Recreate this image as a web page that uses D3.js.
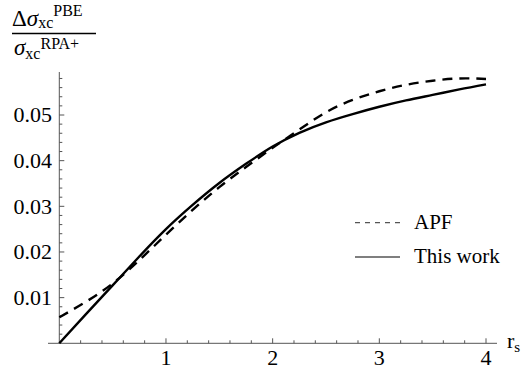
<!DOCTYPE html>
<html>
<head>
<meta charset="utf-8">
<script src="https://cdn.jsdelivr.net/npm/d3@7"></script>
<style>
  body { margin: 0; background: #fff; }
  svg text { font-family: "Liberation Serif", "DejaVu Serif", serif; fill: #000; }
</style>
</head>
<body>
<div id="drawing"></div>
<script>
// Data
const rs = [0, 0.25, 0.5, 0.75, 1, 1.25, 1.5, 1.75, 2, 2.25, 2.5, 2.75, 3, 3.25, 3.5, 3.75, 4];
const apf = [0.0057, 0.0091, 0.0131, 0.0182, 0.0238, 0.0292, 0.0342, 0.0386, 0.0428, 0.0468, 0.0506, 0.0533, 0.0552, 0.0566, 0.0575, 0.0580, 0.0579];
const thisWork = [0, 0.0064, 0.0127, 0.0190, 0.0250, 0.0303, 0.0351, 0.0393, 0.0431, 0.0461, 0.0484, 0.0502, 0.0518, 0.0532, 0.0544, 0.0556, 0.0567];
const xTicks = [1, 2, 3, 4];
const yTicks = [0.01, 0.02, 0.03, 0.04, 0.05];
const legendLabels = ["APF", "This work"];

// SVG dimensions
const svgWidth = 525;
const svgHeight = 372;

const svg = d3.select("#drawing")
  .append("svg")
  .attr("width", svgWidth)
  .attr("height", svgHeight);

// Scales
const x = d3.scaleLinear().domain([0, 4]).range([59.3, 486]);
const y = d3.scaleLinear().domain([0, 0.05]).range([343.3, 115]);

const axisColor = "#555";

// x axis line
svg.append("line")
  .attr("x1", 48).attr("x2", 497)
  .attr("y1", y(0)).attr("y2", y(0))
  .attr("stroke", axisColor).attr("stroke-width", 1);

// y axis line
svg.append("line")
  .attr("x1", x(0)).attr("x2", x(0))
  .attr("y1", 72).attr("y2", y(0))
  .attr("stroke", axisColor).attr("stroke-width", 1);

// x ticks (minor every 0.2)
const xMinor = d3.range(0.2, 4.01, 0.2);
svg.selectAll(".xt")
  .data(xMinor)
  .enter().append("line")
  .attr("x1", d => x(d)).attr("x2", d => x(d))
  .attr("y1", y(0))
  .attr("y2", d => Math.abs(d - Math.round(d)) < 1e-6 ? y(0) - 5 : y(0) - 3)
  .attr("stroke", axisColor).attr("stroke-width", 1);

svg.selectAll(".xl")
  .data(xTicks)
  .enter().append("text")
  .attr("x", d => x(d))
  .attr("y", 365)
  .attr("text-anchor", "middle")
  .attr("font-size", 22)
  .text(d => d);

// y ticks (minor every 0.002)
const yMinor = d3.range(1, 30).map(i => i * 0.002);
svg.selectAll(".yt")
  .data(yMinor)
  .enter().append("line")
  .attr("y1", d => y(d)).attr("y2", d => y(d))
  .attr("x1", x(0))
  .attr("x2", (d, i) => (i + 1) % 5 === 0 ? x(0) + 5 : x(0) + 3)
  .attr("stroke", axisColor).attr("stroke-width", 1);

svg.selectAll(".yl")
  .data(yTicks)
  .enter().append("text")
  .attr("x", 52)
  .attr("y", d => y(d))
  .attr("dy", "0.33em")
  .attr("text-anchor", "end")
  .attr("font-size", 22)
  .text(d => d3.format(".2f")(d));

// r_s label
const rsLabel = svg.append("text")
  .attr("x", 507).attr("y", 348)
  .attr("font-size", 22);
rsLabel.append("tspan").text("r");
rsLabel.append("tspan").attr("font-size", 15).attr("dy", 4).text("s");

// y-axis fraction label
const num = svg.append("text").attr("x", 12).attr("y", 26).attr("font-size", 23);
num.append("tspan").text("Δ");
num.append("tspan").attr("font-style", "italic").text("σ");
num.append("tspan").attr("font-size", 16).attr("dy", 2).text("xc");
num.append("tspan").attr("font-size", 16).attr("dy", -12).text("PBE");

svg.append("line")
  .attr("x1", 12).attr("x2", 96)
  .attr("y1", 33.5).attr("y2", 33.5)
  .attr("stroke", "#000").attr("stroke-width", 1.4);

const den = svg.append("text").attr("x", 14).attr("y", 55).attr("font-size", 23);
den.append("tspan").attr("font-style", "italic").text("σ");
den.append("tspan").attr("font-size", 16).attr("dy", 4).text("xc");
den.append("tspan").attr("font-size", 16).attr("dy", -10).text("RPA+");

// Curves
const lineGen = d3.line()
  .x(d => x(d[0]))
  .y(d => y(d[1]))
  .curve(d3.curveNatural);

svg.append("path")
  .attr("d", lineGen(rs.map((r, i) => [r, apf[i]])))
  .attr("fill", "none")
  .attr("stroke", "#000")
  .attr("stroke-width", 2.4)
  .attr("stroke-dasharray", "10,7");

svg.append("path")
  .attr("d", lineGen(rs.map((r, i) => [r, thisWork[i]])))
  .attr("fill", "none")
  .attr("stroke", "#000")
  .attr("stroke-width", 2.4);

// Legend
const legendY = [222.7, 257];
legendLabels.forEach((lab, i) => {
  svg.append("line")
    .attr("x1", 355).attr("x2", 400)
    .attr("y1", legendY[i]).attr("y2", legendY[i])
    .attr("stroke", axisColor)
    .attr("stroke-width", 1.3)
    .attr("stroke-dasharray", i === 0 ? "5,5" : null);
  svg.append("text")
    .attr("x", 414).attr("y", legendY[i] + 6)
    .attr("font-size", 21)
    .text(lab);
});
</script>
</body>
</html>
